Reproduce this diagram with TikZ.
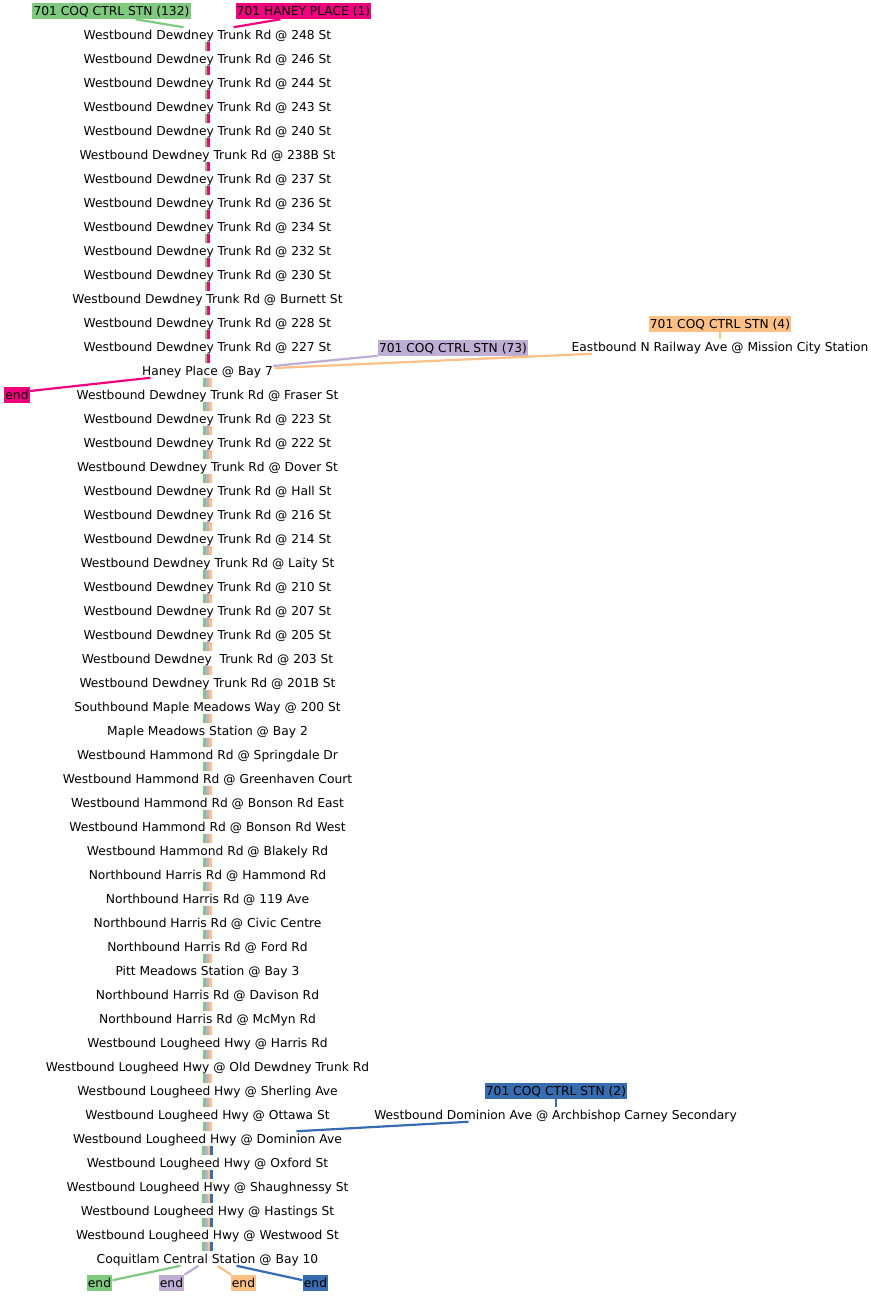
\documentclass[tikz,border=0pt]{standalone}
\usepackage{fontspec}
\setmainfont{DejaVu Sans}
\newdimen\px \px=0.75pt
\definecolor{cgreen}{HTML}{7FC97F}
\definecolor{cpurple}{HTML}{BEAED4}
\definecolor{corange}{HTML}{FDC086}
\definecolor{cblue}{HTML}{386CB0}
\definecolor{cpink}{HTML}{F0027F}
\tikzset{
  stopnode/.style={inner xsep=0pt, inner ysep=1\px, text height=10.5\px, text depth=1.5\px, font=\fontsize{9.2pt}{11pt}\selectfont},
  taglabel/.style={stopnode, inner xsep=1.2\px, inner ysep=2\px, fill=#1},
  conn/.style={line width=2.2\px, draw=#1},
  seg/.style={line width=2.8\px, draw=#1},
}
\begin{document}
\begin{tikzpicture}[x=0.75pt,y=-0.75pt]
\fill[white] (0,0) rectangle (871,1296);
\useasboundingbox (0,0) rectangle (871,1296);
\foreach \t [count=\i] in {
Westbound Dewdney Trunk Rd @ 248 St,
Westbound Dewdney Trunk Rd @ 246 St,
Westbound Dewdney Trunk Rd @ 244 St,
Westbound Dewdney Trunk Rd @ 243 St,
Westbound Dewdney Trunk Rd @ 240 St,
Westbound Dewdney Trunk Rd @ 238B St,
Westbound Dewdney Trunk Rd @ 237 St,
Westbound Dewdney Trunk Rd @ 236 St,
Westbound Dewdney Trunk Rd @ 234 St,
Westbound Dewdney Trunk Rd @ 232 St,
Westbound Dewdney Trunk Rd @ 230 St,
Westbound Dewdney Trunk Rd @ Burnett St,
Westbound Dewdney Trunk Rd @ 228 St,
Westbound Dewdney Trunk Rd @ 227 St,
Haney Place @ Bay 7,
Westbound Dewdney Trunk Rd @ Fraser St,
Westbound Dewdney Trunk Rd @ 223 St,
Westbound Dewdney Trunk Rd @ 222 St,
Westbound Dewdney Trunk Rd @ Dover St,
Westbound Dewdney Trunk Rd @ Hall St,
Westbound Dewdney Trunk Rd @ 216 St,
Westbound Dewdney Trunk Rd @ 214 St,
Westbound Dewdney Trunk Rd @ Laity St,
Westbound Dewdney Trunk Rd @ 210 St,
Westbound Dewdney Trunk Rd @ 207 St,
Westbound Dewdney Trunk Rd @ 205 St,
Westbound Dewdney\ \ Trunk Rd @ 203 St,
Westbound Dewdney Trunk Rd @ 201B St,
Southbound Maple Meadows Way @ 200 St,
Maple Meadows Station @ Bay 2,
Westbound Hammond Rd @ Springdale Dr,
Westbound Hammond Rd @ Greenhaven Court,
Westbound Hammond Rd @ Bonson Rd East,
Westbound Hammond Rd @ Bonson Rd West,
Westbound Hammond Rd @ Blakely Rd,
Northbound Harris Rd @ Hammond Rd,
Northbound Harris Rd @ 119 Ave,
Northbound Harris Rd @ Civic Centre,
Northbound Harris Rd @ Ford Rd,
Pitt Meadows Station @ Bay 3,
Northbound Harris Rd @ Davison Rd,
Northbound Harris Rd @ McMyn Rd,
Westbound Lougheed Hwy @ Harris Rd,
Westbound Lougheed Hwy @ Old Dewdney Trunk Rd,
Westbound Lougheed Hwy @ Sherling Ave,
Westbound Lougheed Hwy @ Ottawa St,
Westbound Lougheed Hwy @ Dominion Ave,
Westbound Lougheed Hwy @ Oxford St,
Westbound Lougheed Hwy @ Shaughnessy St,
Westbound Lougheed Hwy @ Hastings St,
Westbound Lougheed Hwy @ Westwood St,
Coquitlam Central Station @ Bay 10}
  \node[stopnode] (s\i) at (207.5,{34.5+24*(\i-1)}) {\t};
% route segments
\foreach \i [evaluate=\i as \j using int(\i+1)] in {1,...,14} {
  \draw[seg=cgreen] ([xshift=-1.6\px]s\i.south) -- ([xshift=-1.6\px]s\j.north);
  \draw[seg=cpink]  ([xshift=1.2\px]s\i.south) -- ([xshift=1.2\px]s\j.north);
}
\foreach \i [evaluate=\i as \j using int(\i+1)] in {15,...,46} {
  \draw[seg=cgreen]  ([xshift=-2.8\px]s\i.south) -- ([xshift=-2.8\px]s\j.north);
  \draw[seg=cpurple] (s\i.south) -- (s\j.north);
  \draw[seg=corange] ([xshift=2.8\px]s\i.south) -- ([xshift=2.8\px]s\j.north);
}
\foreach \i [evaluate=\i as \j using int(\i+1)] in {47,...,51} {
  \draw[seg=cgreen]  ([xshift=-4.2\px]s\i.south) -- ([xshift=-4.2\px]s\j.north);
  \draw[seg=cpurple] ([xshift=-1.4\px]s\i.south) -- ([xshift=-1.4\px]s\j.north);
  \draw[seg=corange] ([xshift=1.4\px]s\i.south) -- ([xshift=1.4\px]s\j.north);
  \draw[seg=cblue]   ([xshift=4.2\px]s\i.south) -- ([xshift=4.2\px]s\j.north);
}
% labels
\node[taglabel=cgreen] (r132) at (111.5,11) {701 COQ CTRL STN (132)};
\node[taglabel=cpink] (rhp) at (303.5,11) {701 HANEY PLACE (1)};
\node[taglabel=cpink] (endp) at (17,395) {end};
\node[taglabel=cpurple] (r73) at (453,347.5) {701 COQ CTRL STN (73)};
\node[taglabel=corange] (r4) at (720,323.5) {701 COQ CTRL STN (4)};
\node[stopnode] (mission) at (720,346.5) {Eastbound N Railway Ave @ Mission City Station};
\node[taglabel=cblue] (r2) at (556,1091) {701 COQ CTRL STN (2)};
\node[stopnode] (arch) at (555.5,1114.5) {Westbound Dominion Ave @ Archbishop Carney Secondary};
\node[taglabel=cgreen] (e1) at (99.5,1283) {end};
\node[taglabel=cpurple] (e2) at (171.5,1283) {end};
\node[taglabel=corange] (e3) at (243.5,1283) {end};
\node[taglabel=cblue] (e4) at (315.5,1283) {end};
% connectors
\draw[conn=cgreen] ([xshift=24\px]r132.south) -- ([xshift=-24\px]s1.north);
\draw[conn=cpink] ([xshift=-23\px]rhp.south) -- ([xshift=26\px]s1.north);
\draw[conn=cpink] ([xshift=-57\px]s15.south) -- ([yshift=4\px]endp.east);
\draw[conn=cpurple] (r73.south west) -- ([yshift=4.5\px]s15.east);
\draw[conn=corange] ([xshift=-128\px]mission.south) -- ([xshift=2\px,yshift=2.5\px]s15.east);
\draw[conn=corange] (r4.south) -- (r4.south |- mission.north);
\draw[conn=cblue] (r2.south) -- (r2.south |- arch.north);
\draw[conn=cblue] ([xshift=-87\px]arch.south) -- ([xshift=89\px]s47.north);
\draw[conn=cgreen] ([xshift=-27\px]s52.south) -- (e1);
\draw[conn=cpurple] ([xshift=-9\px]s52.south) -- (e2);
\draw[conn=corange] ([xshift=10\px]s52.south) -- (e3);
\draw[conn=cblue] ([xshift=29\px]s52.south) -- (e4);
\end{tikzpicture}
\end{document}
